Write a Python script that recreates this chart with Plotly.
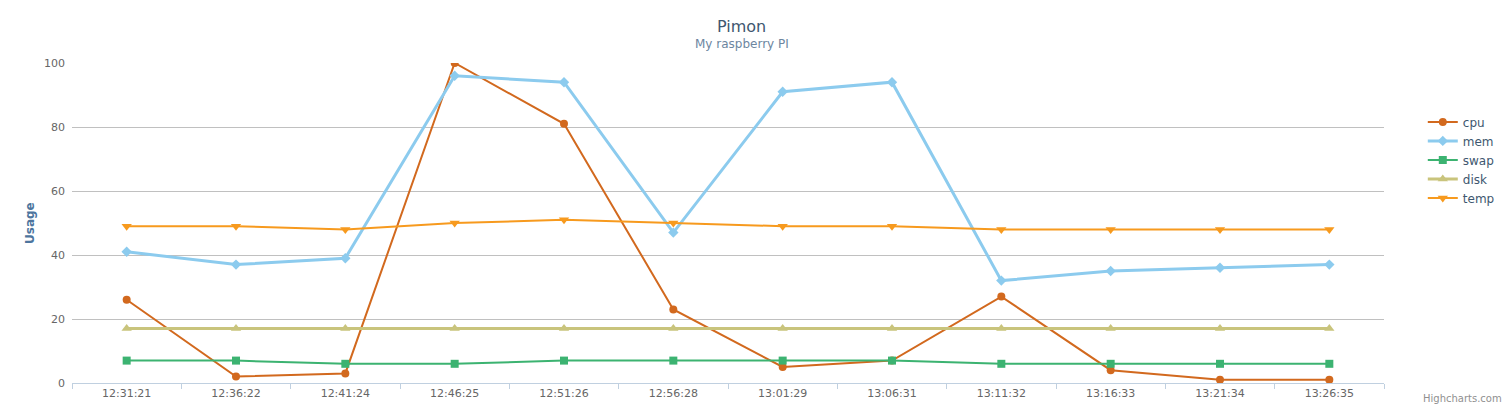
import plotly.graph_objects as go

times = ["12:31:21", "12:36:22", "12:41:24", "12:46:25", "12:51:26", "12:56:28",
         "13:01:29", "13:06:31", "13:11:32", "13:16:33", "13:21:34", "13:26:35"]
cpu = [26, 2, 3, 100, 81, 23, 5, 7, 27, 4, 1, 1]
mem = [41, 37, 39, 96, 94, 47, 91, 94, 32, 35, 36, 37]
swap = [7, 7, 6, 6, 7, 7, 7, 7, 6, 6, 6, 6]
disk = [17, 17, 17, 17, 17, 17, 17, 17, 17, 17, 17, 17]
temp = [49, 49, 48, 50, 51, 50, 49, 49, 48, 48, 48, 48]

series = [
    ("cpu", cpu, "#D2691E", "circle", 2, 8),
    ("mem", mem, "#8CCBEE", "diamond", 3, 8),
    ("swap", swap, "#3CB371", "square", 2, 8),
    ("disk", disk, "#C9C47C", "triangle-up", 3, 9),
    ("temp", temp, "#F79A1E", "triangle-down", 2, 9),
]

FONT = "DejaVu Sans, Open Sans, sans-serif"

fig = go.Figure()
for name, vals, color, sym, lw, ms in series:
    fig.add_trace(go.Scatter(
        x=times, y=vals, name=name, mode="lines+markers",
        line=dict(color=color, width=lw),
        marker=dict(symbol=sym, size=ms, color=color),
    ))

fig.update_layout(
    width=1512, height=410,
    margin=dict(l=72, r=128, t=63, b=27, autoexpand=False),
    paper_bgcolor="white", plot_bgcolor="white",
    font=dict(family=FONT, size=11, color="#666666"),
    showlegend=True,
    legend=dict(xref="container", yref="container", x=0.941, y=0.738,
                xanchor="left", yanchor="top", font=dict(size=12, color="#3E576F"),
                itemwidth=30, tracegroupgap=0, bgcolor="rgba(0,0,0,0)"),
    annotations=[
        dict(text="Pimon", xref="paper", yref="paper", x=(742 - 72) / 1312, y=1 + (63 - 27) / 320,
             showarrow=False, xanchor="center", yanchor="middle",
             font=dict(family=FONT, size=16, color="#3E576F")),
        dict(text="My raspberry PI", xref="paper", yref="paper", x=(742 - 72) / 1312, y=1 + (63 - 44) / 320,
             showarrow=False, xanchor="center", yanchor="middle",
             font=dict(family=FONT, size=12, color="#6D869F")),
        dict(text="Highcharts.com", xref="paper", yref="paper", x=(1504 - 72) / 1312, y=-(398 - 383) / 320,
             showarrow=False, xanchor="right", yanchor="middle",
             font=dict(family=FONT, size=10, color="#909090")),
        dict(text="<b>Usage</b>", xref="paper", yref="paper", x=-(72 - 30) / 1312, y=(383 - 223) / 320,
             showarrow=False, xanchor="center", yanchor="middle", textangle=-90,
             font=dict(family=FONT, size=12, color="#4D759E")),
    ],
)

fig.update_xaxes(
    type="category", range=[-0.5, len(times) - 0.5],
    showgrid=False, showline=True, linecolor="#C0D0E0", linewidth=1,
    ticks="outside", ticklen=5, tickcolor="#C0D0E0", tickson="boundaries",
    tickfont=dict(size=11, color="#666666"), zeroline=False, automargin=False,
)
fig.update_yaxes(
    range=[0, 100], dtick=20, showgrid=True, gridcolor="#C0C0C0", gridwidth=1,
    zeroline=False, showline=False, ticks="", ticklabelstandoff=6,
    tickfont=dict(size=11, color="#666666"), automargin=False,
)

fig.write_html("out.html")
